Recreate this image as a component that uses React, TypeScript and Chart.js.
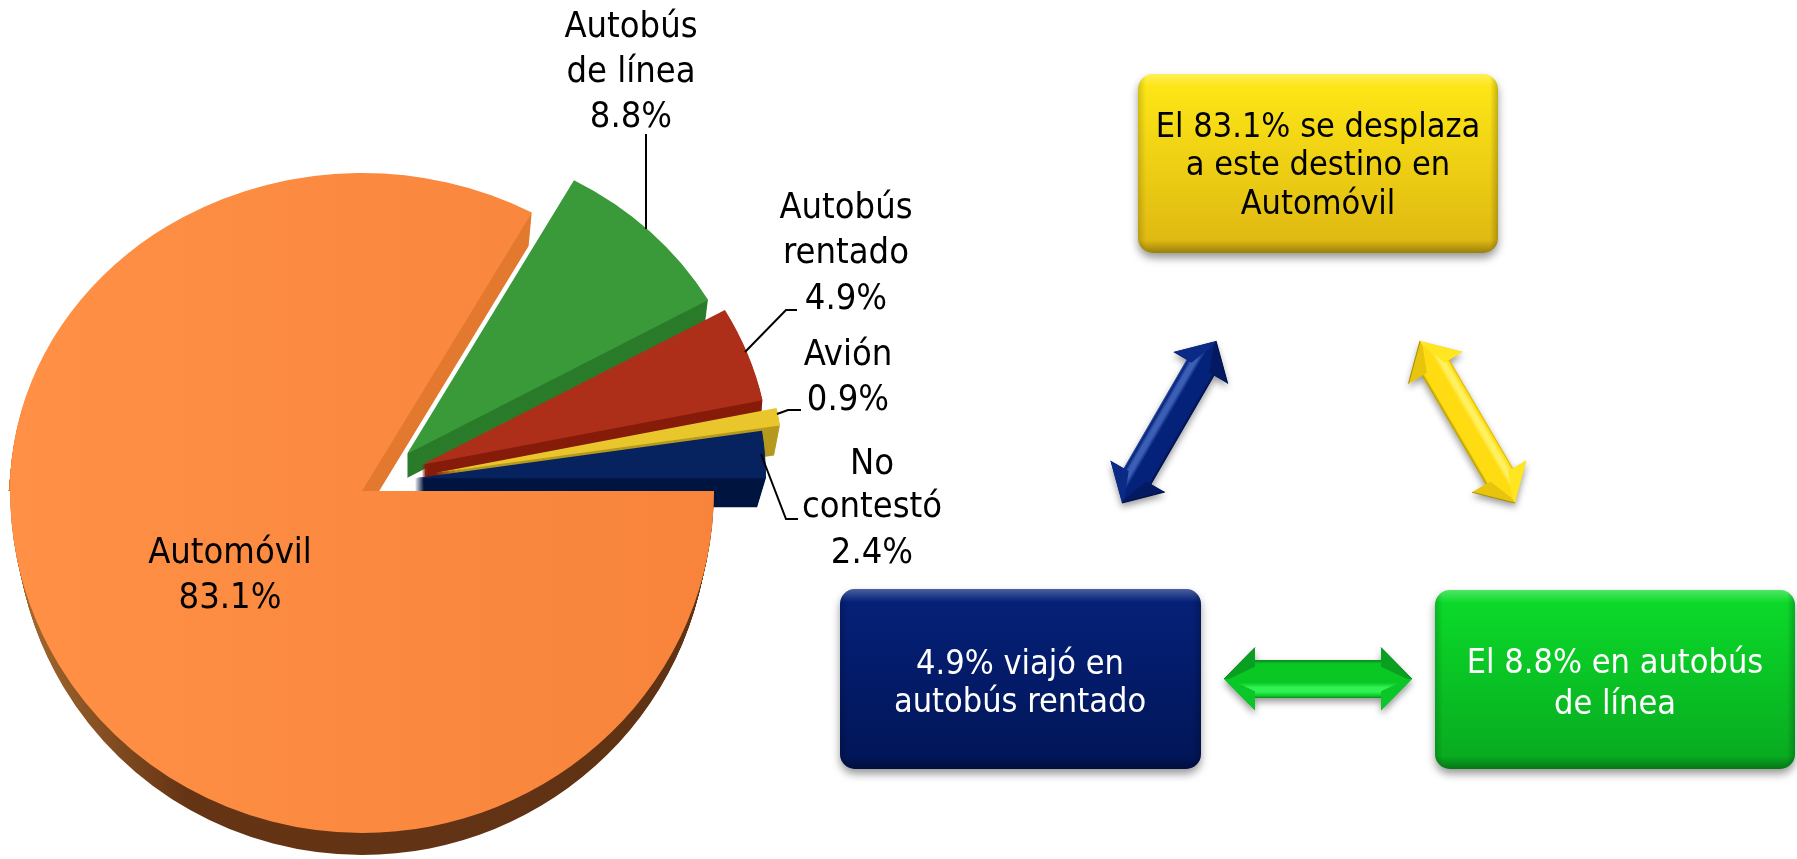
import React, { useEffect, useRef } from "react";
import { Chart, registerables } from "chart.js";

Chart.register(...registerables);

const W = 1797;
const H = 859;

// Data
const categories = ["Automóvil", "Autobús de línea", "Autobús rentado", "Avión", "No contestó"];
const values = [83.1, 8.8, 4.9, 0.9, 2.4];
const valueLabels = ["83.1%", "8.8%", "4.9%", "0.9%", "2.4%"];
const labelLines = [
  ["Automóvil"],
  ["Autobús", "de línea"],
  ["Autobús", "rentado"],
  ["Avión"],
  ["No", "contestó"],
];
const boxTexts = [
  ["El 83.1% se desplaza", "a este destino en", "Automóvil"],
  ["4.9% viajó en", "autobús rentado"],
  ["El 8.8% en autobús", "de línea"],
];

// Layout + style
const CX = 362;
const CY = 491;
const RADIUS = 352;
const SCALE_TOP = 318 / 352;
const SCALE_BOTTOM = 342 / 352;
const explodeX = [0, 45, 60, 73, 53];
const explodeY = [0, -41, -29, -20, -14];
const sliceRadii = [352, 346, 348, 349, 351];
const wallX = [-3, 0, 0, 0, 0];
const wallY = [33, 24, 20, 30, 29];
const wallSX = [1, 0.99, 0.995, 0.983, 0.975];
const wallColors = ["#E37A30", "#2A7C2A", "#861C0A", "#B59A1E", "#011440"];
const surfaceColors = ["#FA873C", "#3A9A3A", "#AE2F19", "#E9C62C", "#06235F"];
const labelPos = [
  { x: 230, ys: [554, 599] },
  { x: 631, ys: [28, 73, 118] },
  { x: 846, ys: [209, 254, 300] },
  { x: 848, ys: [356, 401] },
  { x: 872, ys: [465, 508, 554] },
];
const leaders = [
  [[646, 134], [646, 229]],
  [[745, 352], [786, 310], [797, 310]],
  [[777, 414], [788, 410], [801, 410]],
  [[761, 454], [786, 519], [798, 519]],
];
const boxes = [
  { x: 1138, y: 74, w: 360, h: 179, top: "#FFE916", bottom: "#DDB612", text: "#000000", cx: 1318, ys: [128, 166, 205] },
  { x: 840, y: 589, w: 361, h: 180, top: "#05217A", bottom: "#011556", text: "#FFFFFF", cx: 1020, ys: [665, 703] },
  { x: 1435, y: 590, w: 360, h: 179, top: "#0BDD2A", bottom: "#08A81F", text: "#FFFFFF", cx: 1615, ys: [664, 705] },
];
const arrows = [
  { a: [1122, 503], b: [1216, 341], sh: 16, side: -1, edge: "#021040", outer: "#3C5FB5", body: "#05227A", light: "#3C5FB5", wingA: "#0A2A85", wingB: "#031A62" },
  { a: [1420, 341], b: [1515, 503], sh: 16, side: -1, edge: "#A88F00", outer: "#C8AA00", body: "#FFDC12", light: "#FFF060", wingA: "#FFE620", wingB: "#E8C40C" },
  { a: [1224, 679], b: [1412, 679], sh: 19, side: 1, edge: "#0A8522", outer: "#0A8522", body: "#09C824", light: "#30F252", wingA: "#0BC628", wingB: "#09A022" },
];
const FONT = '"DejaVu Sans"';

function paintArc(ctx: any, arc: any, color: any, s: number, dx: number, dy: number, clipY: number[], sx = 1) {
  ctx.save();
  ctx.beginPath();
  ctx.rect(0, clipY[0], W, clipY[1] - clipY[0]);
  ctx.clip();
  const px = arc.x;
  ctx.translate(CX + dx, CY + dy);
  ctx.scale(1, s);
  ctx.translate(-CX, -CY);
  ctx.translate(px, 0);
  ctx.scale(sx, 1);
  ctx.translate(-px, 0);
  const old = arc.options;
  if (color) arc.options = { ...old, backgroundColor: color };
  arc.draw(ctx);
  arc.options = old;
  ctx.restore();
}

function paintWall(ctx: any, arc: any, color: any, s: number, vx: number, vy: number, clipY: number[], sx: number) {
  const n = Math.ceil(vy);
  for (let t = n; t >= 1; t--) {
    paintArc(ctx, arc, color, s, (vx * t) / n, (vy * t) / n, clipY, 1 + ((sx - 1) * t) / n);
  }
}

const pie3d = {
  id: "pie3d",
  afterDatasetsUpdate(chart: any) {
    chart.getDatasetMeta(0).data.forEach((a: any, i: number) => {
      a.x += explodeX[i];
      a.y += explodeY[i];
      a.outerRadius = sliceRadii[i];
    });
  },
  beforeDatasetsDraw(chart: any) {
    const ctx = chart.ctx;
    const arcs = chart.getDatasetMeta(0).data;
    const up = [0, CY];
    const down = [CY, H];
    const car = arcs[0];
    // upper half of the big slice
    paintWall(ctx, car, wallColors[0], SCALE_TOP, wallX[0], wallY[0], up, wallSX[0]);
    paintArc(ctx, car, null, SCALE_TOP, 0, 0, up);
    // exploded slices
    for (let i = 1; i < arcs.length; i++) {
      paintWall(ctx, arcs[i], wallColors[i], SCALE_TOP, wallX[i], wallY[i], [0, H], wallSX[i]);
      paintArc(ctx, arcs[i], null, SCALE_TOP, 0, 0, [0, H]);
    }
    // lower half of the big slice
    const g = ctx.createLinearGradient(10, 0, 714, 0);
    g.addColorStop(0, "#A86C30");
    g.addColorStop(0.25, "#653415");
    g.addColorStop(1, "#5F3214");
    paintWall(ctx, car, g, SCALE_BOTTOM, 0, 22, down, 0.985);
    paintArc(ctx, car, null, SCALE_BOTTOM, 0, 0, down);
    return false;
  },
};

function roundPath(ctx: any, x: number, y: number, w: number, h: number, r: number) {
  ctx.beginPath();
  ctx.roundRect(x, y, w, h, r);
}

function drawBox(ctx: any, b: any) {
  ctx.save();
  ctx.shadowColor = "rgba(0,0,0,0.4)";
  ctx.shadowBlur = 9;
  ctx.shadowOffsetY = 5;
  const g = ctx.createLinearGradient(0, b.y, 0, b.y + b.h);
  g.addColorStop(0, b.top);
  g.addColorStop(1, b.bottom);
  ctx.fillStyle = g;
  roundPath(ctx, b.x, b.y, b.w, b.h, 15);
  ctx.fill();
  ctx.restore();

  ctx.save();
  roundPath(ctx, b.x, b.y, b.w, b.h, 15);
  ctx.clip();
  const t = ctx.createLinearGradient(0, b.y, 0, b.y + 13);
  t.addColorStop(0, "rgba(255,255,255,0.28)");
  t.addColorStop(1, "rgba(255,255,255,0)");
  ctx.fillStyle = t;
  ctx.fillRect(b.x, b.y, b.w, 13);
  const bt = ctx.createLinearGradient(0, b.y + b.h - 13, 0, b.y + b.h);
  bt.addColorStop(0, "rgba(0,0,0,0)");
  bt.addColorStop(1, "rgba(0,0,0,0.3)");
  ctx.fillStyle = bt;
  ctx.fillRect(b.x, b.y + b.h - 13, b.w, 13);
  const l = ctx.createLinearGradient(b.x, 0, b.x + 8, 0);
  l.addColorStop(0, "rgba(0,0,0,0.16)");
  l.addColorStop(1, "rgba(0,0,0,0)");
  ctx.fillStyle = l;
  ctx.fillRect(b.x, b.y, 8, b.h);
  const r = ctx.createLinearGradient(b.x + b.w - 8, 0, b.x + b.w, 0);
  r.addColorStop(0, "rgba(0,0,0,0)");
  r.addColorStop(1, "rgba(0,0,0,0.22)");
  ctx.fillStyle = r;
  ctx.fillRect(b.x + b.w - 8, b.y, 8, b.h);
  ctx.restore();
}

function arrowPath(ctx: any, e: number, hl: number, hw: number, sh: number) {
  ctx.beginPath();
  ctx.moveTo(-e, 0);
  ctx.lineTo(-e + hl, -hw);
  ctx.lineTo(-e + hl, -sh);
  ctx.lineTo(e - hl, -sh);
  ctx.lineTo(e - hl, -hw);
  ctx.lineTo(e, 0);
  ctx.lineTo(e - hl, hw);
  ctx.lineTo(e - hl, sh);
  ctx.lineTo(-e + hl, sh);
  ctx.lineTo(-e + hl, hw);
  ctx.closePath();
}

function drawArrow(ctx: any, ar: any) {
  const dx = ar.b[0] - ar.a[0];
  const dy = ar.b[1] - ar.a[1];
  const L = Math.hypot(dx, dy);
  const hw = 31.5;
  const sh = ar.sh;
  const hl = 31;
  const e = L / 2;
  ctx.save();
  ctx.translate((ar.a[0] + ar.b[0]) / 2, (ar.a[1] + ar.b[1]) / 2);
  ctx.rotate(Math.atan2(dy, dx));

  // silhouette with shadow
  ctx.save();
  ctx.shadowColor = "rgba(0,0,0,0.4)";
  ctx.shadowBlur = 7;
  ctx.shadowOffsetY = 4;
  arrowPath(ctx, e, hl, hw, sh);
  ctx.fillStyle = ar.body;
  ctx.fill();
  ctx.restore();

  arrowPath(ctx, e, hl, hw, sh);
  ctx.save();
  ctx.clip();
  // head facets: half nearer the dark side, half nearer the light side
  const s = ar.side;
  [-1, 1].forEach((end) => {
    ctx.beginPath();
    ctx.moveTo(end * e, 0);
    ctx.lineTo(end * (e - hl), hw * -s);
    ctx.lineTo(end * (e - hl), 0);
    ctx.closePath();
    ctx.fillStyle = ar.wingB;
    ctx.fill();
    ctx.beginPath();
    ctx.moveTo(end * e, 0);
    ctx.lineTo(end * (e - hl), hw * s);
    ctx.lineTo(end * (e - hl), 0);
    ctx.closePath();
    ctx.fillStyle = ar.wingA;
    ctx.fill();
  });
  // shaft cross-section
  const g = ctx.createLinearGradient(0, -sh * s, 0, sh * s);
  const stops: [number, string][] = [
    [0, ar.edge],
    [0.1, ar.body],
    [0.6, ar.body],
    [0.72, ar.light],
    [0.84, ar.light],
    [0.95, ar.body],
    [1, ar.outer],
  ];
  stops.forEach(([o, c]) => g.addColorStop(o, c));
  ctx.fillStyle = g;
  ctx.beginPath();
  ctx.moveTo(-e + hl, -sh);
  ctx.lineTo(e - hl, -sh);
  ctx.lineTo(e - hl - 12, -sh + 1);
  ctx.lineTo(e - 5, 0);
  ctx.lineTo(e - hl - 12, sh - 1);
  ctx.lineTo(e - hl, sh);
  ctx.lineTo(-e + hl, sh);
  ctx.lineTo(-e + hl + 12, sh - 1);
  ctx.lineTo(-e + 5, 0);
  ctx.lineTo(-e + hl + 12, -sh + 1);
  ctx.closePath();
  ctx.rect(-e + hl, -sh, L - 2 * hl, 2 * sh);
  ctx.fill("nonzero");
  ctx.restore();

  // darker rim on the shadow side of the heads
  ctx.strokeStyle = ar.edge;
  ctx.lineWidth = 1;
  [-1, 1].forEach((end) => {
    ctx.beginPath();
    ctx.moveTo(end * e, 0);
    ctx.lineTo(end * (e - hl), hw * -s);
    ctx.stroke();
  });
  ctx.restore();
}

const decor = {
  id: "decor",
  afterDraw(chart: any) {
    const ctx = chart.ctx;
    ctx.save();
    boxes.forEach((b) => drawBox(ctx, b));
    arrows.forEach((a) => drawArrow(ctx, a));

    ctx.strokeStyle = "#000000";
    ctx.lineWidth = 2;
    leaders.forEach((pts) => {
      ctx.beginPath();
      pts.forEach((p, i) => (i ? ctx.lineTo(p[0], p[1]) : ctx.moveTo(p[0], p[1])));
      ctx.stroke();
    });

    ctx.textAlign = "center";
    ctx.textBaseline = "middle";
    ctx.font = `36px ${FONT}`;
    ctx.fontStretch = "condensed";
    ctx.fillStyle = "#000000";
    categories.forEach((_, i) => {
      const lines = [...labelLines[i], valueLabels[i]];
      lines.forEach((t, k) => ctx.fillText(t, labelPos[i].x, labelPos[i].ys[k]));
    });

    ctx.font = `34px ${FONT}`;
    ctx.fontStretch = "condensed";
    boxes.forEach((b, i) => {
      ctx.fillStyle = b.text;
      boxTexts[i].forEach((t, k) => ctx.fillText(t, b.cx, b.ys[k]));
    });
    ctx.restore();
  },
};

export default function App() {
  const ref = useRef<HTMLCanvasElement | null>(null);
  useEffect(() => {
    const canvas = ref.current!;
    const c2d = canvas.getContext("2d")!;
    const orange = c2d.createLinearGradient(10, 0, 714, 0);
    orange.addColorStop(0, "#FF9046");
    orange.addColorStop(1, "#F7843A");
    const colors: any[] = [orange, ...surfaceColors.slice(1)];
    const chart = new Chart(canvas, {
      type: "pie",
      data: {
        labels: categories,
        datasets: [{ data: values, backgroundColor: colors, borderWidth: 0 }],
      },
      options: {
        responsive: false,
        animation: false,
        devicePixelRatio: 1,
        rotation: 90,
        radius: RADIUS,
        layout: { padding: { left: 0, right: W - 2 * CX, top: 2 * CY - H, bottom: 0 } },
        plugins: { legend: { display: false }, tooltip: { enabled: false } },
      },
      plugins: [pie3d, decor],
    } as any);
    return () => chart.destroy();
  }, []);
  return (
    <div style={{ position: "absolute", left: 0, top: 0, width: W, height: H, background: "#fff" }}>
      <canvas ref={ref} width={W} height={H} style={{ display: "block", width: W, height: H }} />
    </div>
  );
}
